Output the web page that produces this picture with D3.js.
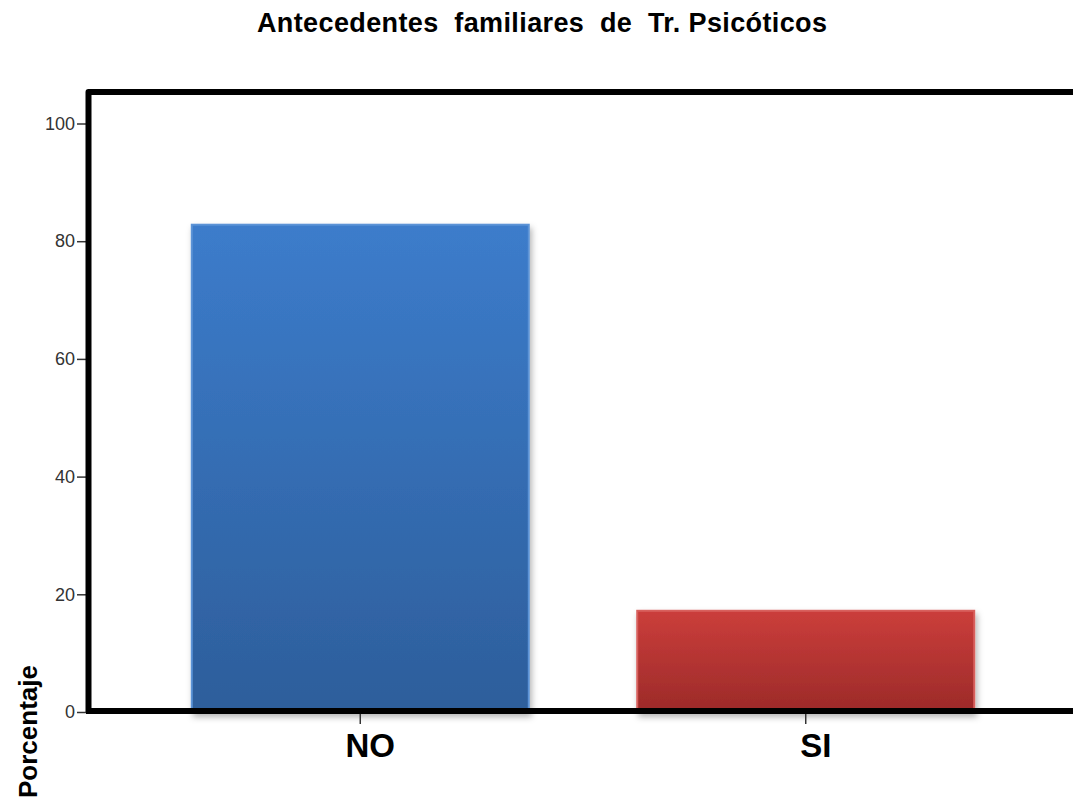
<!DOCTYPE html>
<html>
<head>
<meta charset="utf-8">
<script src="https://cdn.jsdelivr.net/npm/d3@7"></script>
<style>
body { margin: 0; background: #fff; }
text { font-family: "Liberation Sans", Arial, sans-serif; }
</style>
</head>
<body>
<div class="chart"></div>
<script>
const categories = ["NO", "SI"]
const values = [82.8, 17.2]
const yTicks = [0, 20, 40, 60, 80, 100]
const title = "Antecedentes  familiares  de  Tr. Psicóticos"
const yLabel = "Porcentaje"

const width = 1073
const height = 801

const svg = d3.select(".chart").append("svg")
	.attr("width", width)
	.attr("height", height)

const defs = svg.append("defs")

function grad(id, top, bottom) {
	const g = defs.append("linearGradient")
		.attr("id", id)
		.attr("x1", 0).attr("y1", 0).attr("x2", 0).attr("y2", 1)
	g.append("stop").attr("offset", "0%").attr("stop-color", top)
	g.append("stop").attr("offset", "100%").attr("stop-color", bottom)
}
grad("gNO", "#3c7ccb", "#2d5e9b")
grad("gSI", "#cb3e3b", "#9c2a29")

const shadow = defs.append("filter").attr("id", "shadow")
	.attr("x", "-10%").attr("y", "-10%").attr("width", "130%").attr("height", "130%")
shadow.append("feDropShadow")
	.attr("dx", 2).attr("dy", 4).attr("stdDeviation", 3)
	.attr("flood-color", "#000").attr("flood-opacity", 0.3)

let x = d3.scaleBand()
	.domain(categories)
	.range([88, 1078])
	.paddingInner(0.2435)
	.paddingOuter(0.233)

let y = d3.scaleLinear()
	.domain([0, 100])
	.range([712, 123.5])

// title
svg.append("text")
	.attr("x", 257)
	.attr("y", 32)
	.attr("font-size", 27)
	.attr("font-weight", "bold")
	.attr("textLength", 570)
	.attr("lengthAdjust", "spacing")
	.style("white-space", "pre")
	.text(title)

// y axis
let yAxis = d3.axisLeft(y).tickValues(yTicks).tickSize(9).tickPadding(2)
let yG = svg.append("g")
	.attr("transform", "translate(86,0)")
	.call(yAxis)
yG.select(".domain").remove()
yG.selectAll(".tick line").attr("stroke", "#333").attr("stroke-width", 1.5)
yG.selectAll(".tick text")
	.attr("font-size", 18)
	.attr("fill", "#333")
	.style("font-family", "'Liberation Sans', Arial, sans-serif")

// bars
let colors = { NO: "url(#gNO)", SI: "url(#gSI)" }
let edges = { NO: "#5b93d6", SI: "#d8605d" }
svg.selectAll("rect.bar")
	.data(categories)
	.enter().append("rect")
	.attr("class", "bar")
	.attr("x", d => x(d))
	.attr("y", (d, i) => y(values[i]))
	.attr("width", x.bandwidth())
	.attr("height", (d, i) => y(0) - y(values[i]))
	.attr("fill", d => colors[d])
	.attr("stroke", d => edges[d])
	.attr("stroke-width", 2)
	.attr("filter", "url(#shadow)")

// frame: left axis + top border
svg.append("path")
	.attr("d", `M${x.range()[0] + 0.5},${y(0)} L${x.range()[0] + 0.5},92 L${width + 5},92`)
	.attr("fill", "none")
	.attr("stroke", "#000")
	.attr("stroke-width", 6)
	.attr("stroke-linejoin", "round")

// x axis
let xAxis = d3.axisBottom(x).tickSize(13).tickPadding(10)
let xG = svg.append("g")
	.attr("transform", "translate(0," + (y(0) - 1) + ")")
	.call(xAxis)
xG.select(".domain").remove()
xG.append("line")
	.attr("x1", 86).attr("x2", width + 5)
	.attr("y1", 0).attr("y2", 0)
	.attr("stroke", "#000").attr("stroke-width", 6)
xG.selectAll(".tick line").attr("stroke", "#333").attr("stroke-width", 1.5)
xG.selectAll(".tick text")
	.attr("font-size", 33)
	.attr("font-weight", "bold")
	.attr("fill", "#000")
	.attr("dx", 10)
	.style("font-family", "'Liberation Sans', Arial, sans-serif")

// y label
svg.append("text")
	.attr("transform", "translate(37,798) rotate(-90)")
	.attr("font-size", 26)
	.attr("font-weight", "bold")
	.text(yLabel)
</script>
</body>
</html>
